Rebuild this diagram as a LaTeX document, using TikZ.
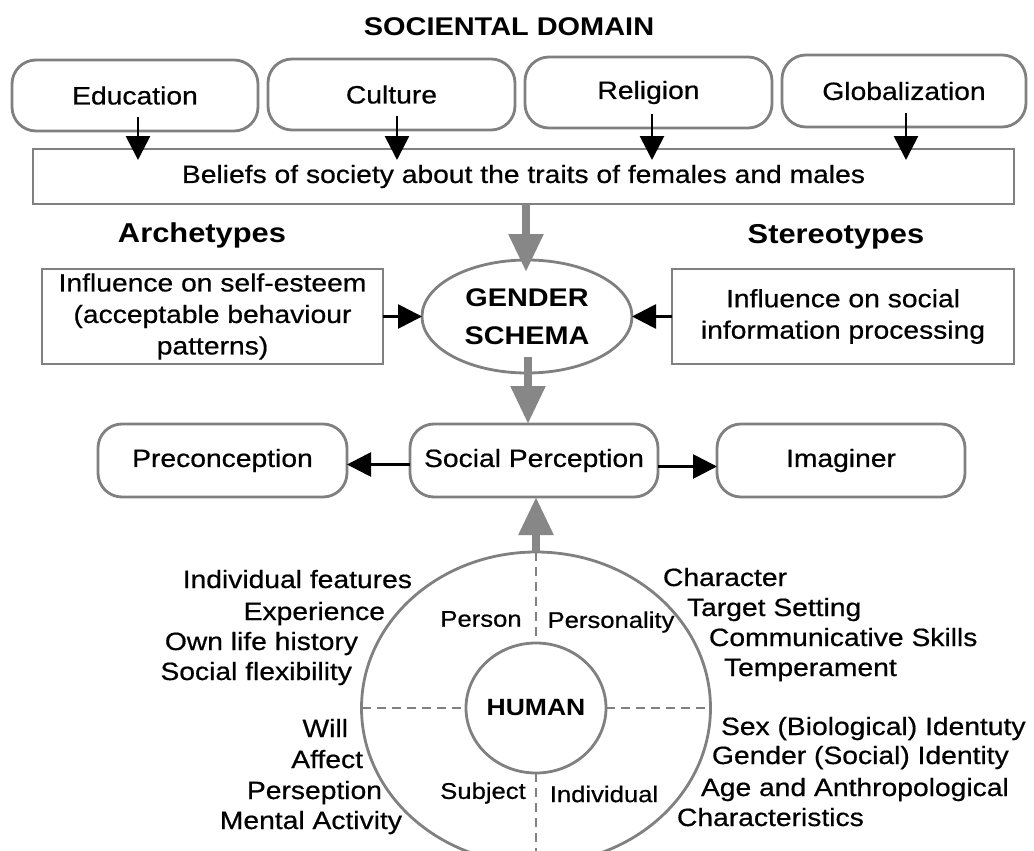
\documentclass[tikz,border=0pt]{standalone}
\usepackage{fontspec}
\setmainfont{Liberation Sans}[FakeStretch=1.13,UprightFeatures={FakeBold=0.6}]
\usetikzlibrary{arrows.meta,shapes.geometric}
\definecolor{lgray}{RGB}{128,128,128}
\definecolor{agray}{RGB}{135,135,135}
\begin{document}
\begin{tikzpicture}[x=1pt,y=-1pt,
  every node/.style={inner sep=0pt,outer sep=0pt},
  txt/.style={font=\fontsize{25}{31.5}\selectfont,text height=18pt,text depth=0pt},
  small/.style={font=\fontsize{22.7}{28}\selectfont},
  bold/.style={font=\fontsize{27.3}{32}\selectfont\bfseries},
  rbox/.style={draw=lgray,line width=2.8pt,rounded corners=24pt,align=center,
    font=\fontsize{25}{31.5}\selectfont},
  sbox/.style={draw=lgray,line width=2.8pt,align=center,
    font=\fontsize{25}{31.5}\selectfont},
  blk/.style={line width=2.8pt,-{Triangle[length=24pt,width=24pt]}},
  gar/.style={draw=agray,line width=8.5pt,-{Triangle[length=38pt,width=33pt]}},
  dsh/.style={draw=lgray,line width=2.8pt,dash pattern=on 9pt off 6pt},
  ring/.style={draw=lgray,line width=2.8pt,ellipse}
]
\useasboundingbox[fill=white] (0,0) rectangle (1034,851);

% title
\node[font=\fontsize{25.6}{30}\selectfont\bfseries] (title) at (509,27) {SOCIENTAL DOMAIN};

% top boxes
\node[rbox,minimum width=246pt,minimum height=71pt] (edu) at (135,95.5) {Education};
\node[rbox,minimum width=247pt,minimum height=71pt] (cul) at (391.5,94.5) {Culture};
\node[rbox,minimum width=247pt,minimum height=71pt] (rel) at (648.5,92.5) {Religion};
\node[rbox,minimum width=244pt,minimum height=72pt] (glo) at (904,91) {Globalization};

\node[sbox,minimum width=981pt,minimum height=55pt] (bel) at (523.5,176.5)
  {Beliefs of society about the traits of females and males};

\foreach \n/\xx in {edu/138,cul/397,rel/652,glo/906}{
  \draw[blk] ([yshift=14pt]\n.south -| \xx,0) -- ([yshift=-11pt]bel.north -| \xx,0);
}

% middle
\node[bold] (arch) at (202,235) {Archetypes};
\node[bold] (ster) at (836,237) {Stereotypes};

\node[ring,minimum width=210pt,minimum height=113pt,align=center,
  font=\fontsize{25.5}{38}\selectfont\bfseries] (gs) at (527,316.5) {GENDER\\SCHEMA};

\node[sbox,minimum width=341pt,minimum height=95pt] (lb) at (212.5,316.5)
  {Influence on self-esteem\\(acceptable behaviour\\patterns)};
\node[sbox,minimum width=342pt,minimum height=95pt] (rb) at (843,316.5)
  {Influence on social\\information processing};

\draw[blk] (lb.east) -- (lb.east -| gs.west);
\draw[blk] (rb.west) -- (rb.west -| gs.east);

\draw[gar] (bel.south -| 526,0) -- ([yshift=-12pt]gs.north -| 526,0);

% third row
\node[rbox,minimum width=249pt,minimum height=73pt] (pre) at (222.5,460.5) {Preconception};
\node[rbox,minimum width=248pt,minimum height=73pt] (sp) at (534,460.5) {Social Perception};
\node[rbox,minimum width=248pt,minimum height=73pt] (img) at (841,460.5) {Imaginer};

\draw[blk] ([yshift=-4pt]sp.west) -- ([yshift=-4pt]pre.east);
\draw[blk] ([yshift=-6pt]sp.east) -- ([yshift=-6pt]img.west);

\draw[gar] ([yshift=16pt]gs.south -| 528,0) -- (sp.north -| 528,0);

% human circle
\node[ring,minimum width=349pt,minimum height=312pt] (outer) at (536,708) {};
\node[ring,minimum width=140pt,minimum height=130pt,
  font=\fontsize{23.5}{28}\selectfont\bfseries] (inner) at (536,708) {HUMAN};

\draw[dsh] (outer.north) -- (inner.north);
\draw[dsh] (inner.south) -- (outer.south);
\draw[dsh] (outer.west) -- (inner.west);
\draw[dsh] (inner.east) -- (outer.east);

\draw[gar] (outer.north) -- (outer.north |- sp.south);

\node[small] (person) at (481,619) {Person};
\node[small] (persty) at (611,622) {Personality};
\node[small] (subj) at (483,793) {Subject};
\node[small] (indiv) at (604,794) {Individual};

% left lists
\node[txt,anchor=east] (l1) at (412,579) {Individual features};
\node[txt,anchor=east] (l2) at (385,611) {Experience};
\node[txt,anchor=east] (l3) at (358,641) {Own life history};
\node[txt,anchor=east] (l4) at (352,671) {Social flexibility};
\node[txt,anchor=east] (l5) at (348,728) {Will};
\node[txt,anchor=east] (l6) at (363,759) {Affect};
\node[txt,anchor=east] (l7) at (382,790) {Perseption};
\node[txt,anchor=east] (l8) at (402,820) {Mental Activity};

% right lists
\node[txt,anchor=west] (r1) at (663,577) {Character};
\node[txt,anchor=west] (r2) at (687,607) {Target Setting};
\node[txt,anchor=west] (r3) at (709,637) {Communicative Skills};
\node[txt,anchor=west] (r4) at (724,667) {Temperament};
\node[txt,anchor=west] (r5) at (721,726) {Sex (Biological) Identuty};
\node[txt,anchor=west] (r6) at (712,755) {Gender (Social) Identity};
\node[txt,anchor=west] (r7) at (701,787) {Age and Anthropological};
\node[txt,anchor=west] (r8) at (677,817) {Characteristics};
\end{tikzpicture}
\end{document}
